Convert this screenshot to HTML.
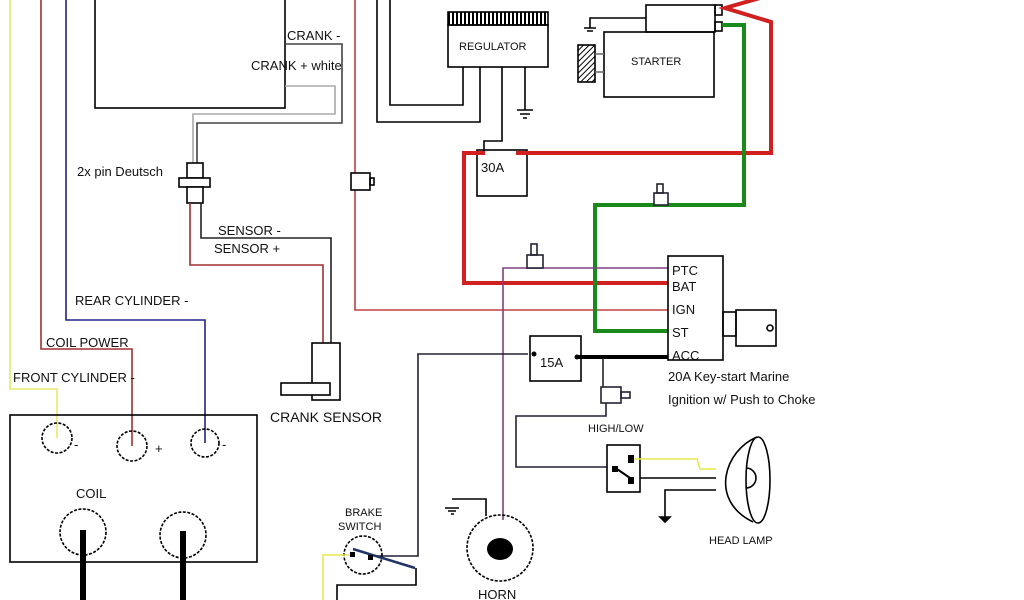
<!DOCTYPE html>
<html><head><style>body{margin:0;background:#fff}svg{display:block}text{font-family:"Liberation Sans",sans-serif;font-size:13px;fill:#111}</style></head>
<body>
<svg width="1024" height="600" viewBox="0 0 1024 600" xmlns="http://www.w3.org/2000/svg">
<defs><pattern id="h" width="4" height="4" patternUnits="userSpaceOnUse" patternTransform="rotate(45)"><line x1="0" y1="0" x2="0" y2="4" stroke="#000" stroke-width="2"/></pattern>
<pattern id="v" width="4" height="4" patternUnits="userSpaceOnUse"><line x1="1" y1="0" x2="1" y2="4" stroke="#000" stroke-width="2"/></pattern></defs>
<g fill="none" stroke-width="1.6">
<path d="M10 0V389H57V438" stroke="#e8e86a"/>
<path d="M41 0V349H132V446" stroke="#a03030"/>
<path d="M66 0V320H205V443" stroke="#222288"/>
<rect x="95" y="-2" width="190" height="110" stroke="#000"/>
<path d="M285 44H342V123H197V165" stroke="#444"/>
<path d="M285 86H335V114H193V165" stroke="#aaa"/>
<rect x="187" y="163" width="16" height="15" stroke="#000" fill="#fff"/>
<rect x="179" y="178" width="31" height="9" stroke="#000" fill="#fff"/>
<rect x="187" y="187" width="16" height="16" stroke="#000" fill="#fff"/>
<path d="M201 203V238H331V343" stroke="#222"/>
<path d="M190 203V265H323V343" stroke="#a03030"/>
<rect x="312" y="343" width="28" height="57" stroke="#000" fill="#fff"/>
<rect x="281" y="383" width="49" height="12" stroke="#000" fill="#fff"/>
<path d="M355 0V310H668" stroke="#c04040"/>
<rect x="351" y="173" width="19" height="17" stroke="#000" fill="#fff"/><rect x="370" y="178" width="4" height="7" stroke="#000"/>
<rect x="10" y="415" width="247" height="147" stroke="#000"/>
<g stroke="#000" stroke-dasharray="3 1.5"><circle cx="57" cy="438" r="15"/><circle cx="132" cy="446" r="15"/><circle cx="205" cy="443" r="14"/><circle cx="83" cy="532" r="23"/><circle cx="183" cy="535" r="23"/></g>
<path d="M83 530V600M183 531V600" stroke="#000" stroke-width="6"/>
<rect x="448" y="25" width="100" height="42" stroke="#000"/>
<rect x="448" y="12" width="100" height="13" fill="url(#v)" stroke="#000"/>
<path d="M463 67V105H390V0M480 67V122H377V0M502 67V141H484V152M525 67V110" stroke="#000"/>
<path d="M517 110h16M520 114h10M523 118h4" stroke="#000" stroke-width="1.5"/>
<rect x="477" y="150" width="50" height="46" stroke="#000"/>
<rect x="604" y="32" width="110" height="65" stroke="#000"/>
<rect x="646" y="5" width="69" height="27" stroke="#000"/>
<rect x="715" y="5" width="7" height="10" stroke="#000"/><rect x="715" y="22" width="7" height="9" stroke="#000"/>
<path d="M646 18H590V28M584 28h12M587 31h6" stroke="#000"/>
<rect x="578" y="45" width="17" height="37" fill="url(#h)" stroke="#000"/>
<path d="M595 54h9M595 72h9" stroke="#666"/>
<path d="M485 153H464V283H668" stroke="#d02020" stroke-width="4"/>
<path d="M516 153H771V22L725 8L760 -2" stroke="#d02020" stroke-width="4"/>
<path d="M722 25H744V205H595V331H668" stroke="#1a8a1a" stroke-width="4"/>
<rect x="654" y="193" width="14" height="12" stroke="#223" fill="#fff"/><rect x="657" y="184" width="6" height="9" stroke="#223"/>
<path d="M503 520V268H668" stroke="#804080"/>
<rect x="527" y="255" width="16" height="13" stroke="#223" fill="#fff"/><rect x="531" y="244" width="6" height="11" stroke="#223"/>
<rect x="668" y="256" width="55" height="104" stroke="#000" fill="none"/>
<rect x="723" y="312" width="13" height="24" stroke="#000"/><rect x="736" y="310" width="40" height="36" stroke="#000"/><circle cx="770" cy="328" r="3" stroke="#000"/>
<rect x="530" y="336" width="51" height="45" stroke="#000"/>
<circle cx="534" cy="354" r="2.5" fill="#000"/><circle cx="577" cy="357" r="2.5" fill="#000"/>
<path d="M577 357H668" stroke="#000" stroke-width="4"/>
<path d="M528 354H418V556H375" stroke="#223"/>
<path d="M416 568V585H337V600" stroke="#000"/>
<path d="M603 358V387" stroke="#223"/>
<rect x="601" y="387" width="20" height="16" stroke="#223"/><rect x="621" y="392" width="9" height="6" stroke="#223"/>
<path d="M606 403V416H516V467H607" stroke="#223"/>
<circle cx="363" cy="555" r="19" stroke="#000" stroke-dasharray="3 1.5"/>
<path d="M323 600V555H352" stroke="#e8e84a" stroke-width="1.5"/>
<path d="M353 549L415 568" stroke="#223366" stroke-width="2.5"/>
<rect x="350" y="552" width="5" height="5" fill="#000"/><rect x="368" y="555" width="5" height="5" fill="#000"/>
<rect x="607" y="445" width="33" height="47" stroke="#000"/>
<rect x="628" y="455" width="6" height="8" fill="#000"/><rect x="612" y="466" width="6" height="6" fill="#000"/><rect x="628" y="477" width="6" height="7" fill="#000"/>
<path d="M617 469L630 478" stroke="#000" stroke-width="2"/>
<path d="M634 459H697L700 469H716" stroke="#e8e84a" stroke-width="1.5"/>
<path d="M640 478H716M716 490H665V517" stroke="#000"/>
<path d="M660 517h10l-5 5z" fill="#000" stroke="#000"/>
<path d="M757 437C725 450 708 500 753 522" stroke="#000"/>
<ellipse cx="758" cy="480" rx="12" ry="43" stroke="#000"/>
<path d="M746 468A10 10 0 0 1 746 488" stroke="#000"/>
<path d="M452 499H486V516M445 508h14M448 511h8M451 514h3" stroke="#000"/>
<circle cx="500" cy="548" r="33" stroke="#000" stroke-dasharray="3 1.5"/>
<ellipse cx="500" cy="549" rx="13" ry="11" fill="#000"/>
</g>
<text x="287" y="40">CRANK -</text>
<text x="251" y="70">CRANK + white</text>
<text x="77" y="176">2x pin Deutsch</text>
<text x="218" y="235">SENSOR -</text>
<text x="214" y="253">SENSOR +</text>
<text x="75" y="305">REAR CYLINDER -</text>
<text x="46" y="347">COIL POWER</text>
<text x="13" y="382">FRONT CYLINDER -</text>
<text x="74" y="449">-</text><text x="155" y="453">+</text><text x="222" y="449">-</text>
<text x="76" y="498">COIL</text>
<text x="270" y="422" style="font-size:14px">CRANK SENSOR</text>
<text x="459" y="50" style="font-size:11px">REGULATOR</text>
<text x="631" y="65" style="font-size:11px">STARTER</text>
<text x="481" y="172">30A</text>
<text x="540" y="367">15A</text>
<text x="672" y="275">PTC</text><text x="672" y="291">BAT</text><text x="672" y="314">IGN</text><text x="672" y="337">ST</text><text x="672" y="360">ACC</text>
<text x="668" y="381">20A Key-start Marine</text>
<text x="668" y="404">Ignition w/ Push to Choke</text>
<text x="588" y="432" style="font-size:11px">HIGH/LOW</text>
<text x="709" y="544" style="font-size:11px">HEAD LAMP</text>
<text x="345" y="516" style="font-size:11px">BRAKE</text>
<text x="338" y="530" style="font-size:11px">SWITCH</text>
<text x="478" y="599">HORN</text>
</svg>
</body></html>
